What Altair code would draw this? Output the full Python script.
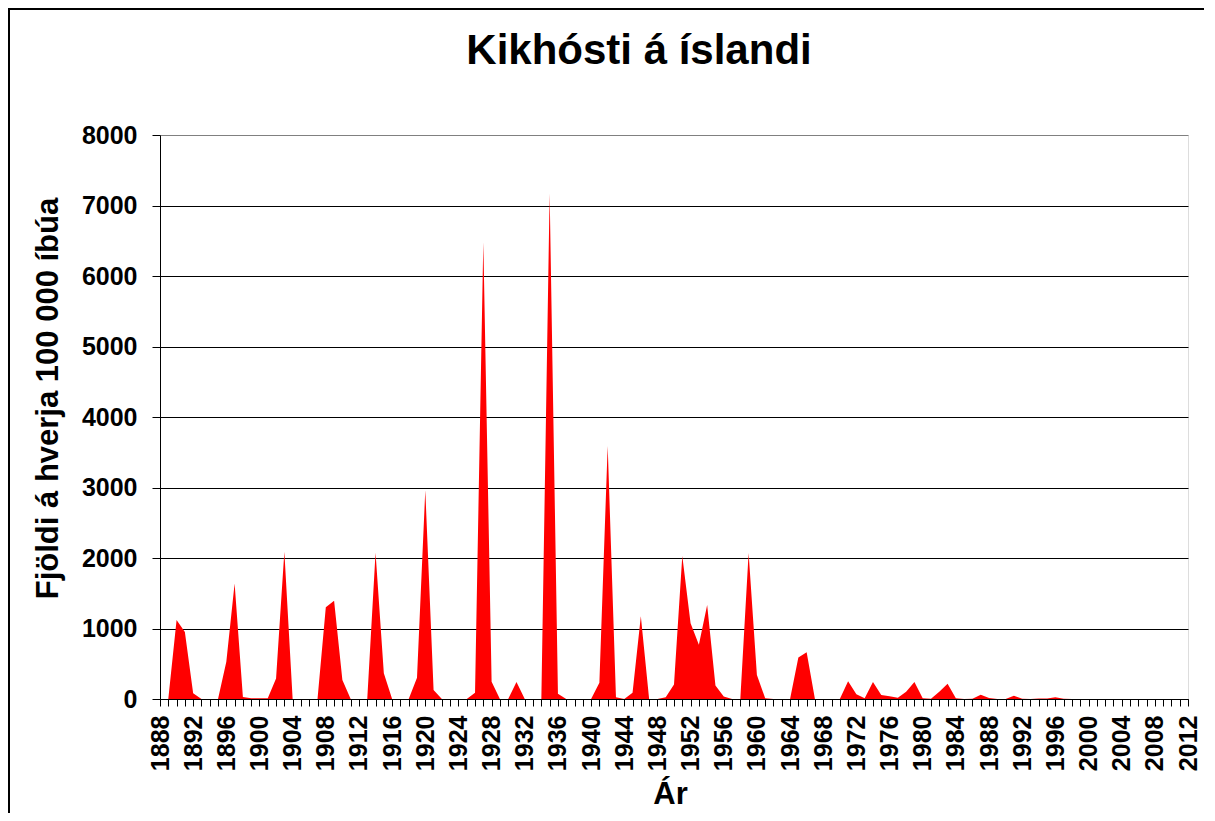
import altair as alt
import pandas as pd

years = list(range(1888, 2013))
cases = [
    0, 0, 1120, 950, 80, 0, 0, 0, 530, 1640,          # 1888-1897
    30, 10, 10, 10, 290, 2090, 0, 0, 0, 0,            # 1898-1907
    1300, 1395, 270, 0, 0, 0, 2075, 365, 0, 0,        # 1908-1917
    0, 300, 2960, 128, 0, 0, 0, 0, 90, 6480,          # 1918-1927
    245, 0, 0, 240, 0, 0, 0, 7170, 76, 0,             # 1928-1937
    0, 0, 0, 230, 3590, 25, 0, 90, 1175, 0,           # 1938-1947
    0, 25, 205, 2030, 1076, 770, 1333, 190, 34, 0,    # 1948-1957
    0, 2070, 340, 10, 0, 0, 0, 588, 663, 0,           # 1958-1967
    0, 0, 0, 253, 68, 10, 241, 57, 38, 19,            # 1968-1977
    104, 241, 10, 5, 104, 218, 10, 0, 5, 61,          # 1978-1987
    14, 0, 0, 45, 5, 0, 7, 7, 24, 5,                  # 1988-1997
    0, 0, 0, 0, 0, 0, 0, 0, 0, 0,                     # 1998-2007
    0, 0, 0, 0, 0,                                    # 2008-2012
]
y_ticks = [0, 1000, 2000, 3000, 4000, 5000, 6000, 7000, 8000]

FONT = "Liberation Sans"

df = pd.DataFrame({"year": years, "cases": cases})

area = alt.Chart(df).mark_area(color="#FF0000", interpolate="linear").encode(
    x=alt.X(
        "year:Q",
        scale=alt.Scale(domain=[1888, 2012], nice=False, zero=False),
        axis=alt.Axis(
            values=years,
            format="d",
            labelExpr="datum.value % 4 == 0 ? datum.label : ''",
            labelAngle=270,
            labelAlign="right",
            labelBaseline="middle",
            labelOverlap=False,
            labelFont=FONT,
            labelFontSize=25,
            labelFontWeight="bold",
            labelColor="black",
            labelPadding=9,
            tickSize=7,
            tickColor="black",
            domainColor="black",
            domainWidth=1,
            grid=False,
            title="Ár",
            titleFont=FONT,
            titleFontSize=31,
            titleFontWeight="bold",
            titleColor="black",
            titleX=510,
            titleY=104,
            titleBaseline="alphabetic",
            titleAlign="center",
            zindex=2,
        ),
    ),
    y=alt.Y(
        "cases:Q",
        scale=alt.Scale(domain=[0, 8000], nice=False),
        axis=alt.Axis(
            values=y_ticks,
            format="d",
            labelFont=FONT,
            labelFontSize=25,
            labelFontWeight="bold",
            labelColor="black",
            labelPadding=15,
            tickSize=8,
            tickColor="black",
            domainColor="black",
            domainWidth=1,
            grid=True,
            gridColor={"condition": {"test": "datum.value === 8000", "value": "#808080"}, "value": "black"},
            gridWidth=1,
            title="Fjöldi á hverja 100 000 íbúa",
            titleFont=FONT,
            titleFontSize=31,
            titleFontWeight="bold",
            titleColor="black",
            titleAngle=270,
            titleX=-103,
            titleY=263,
            titleBaseline="alphabetic",
            titleAlign="center",
        ),
    ),
)

frame = alt.Chart(pd.DataFrame({"f": [0]})).mark_rect(
    fill=None, stroke="black", strokeWidth=2
).encode(
    x=alt.value(-151),
    x2=alt.value(1200),
    y=alt.value(-126),
    y2=alt.value(900),
)

chart = alt.layer(area, frame).properties(
    width=1028,
    height=564,
    padding={"left": 152, "top": 127, "right": 16, "bottom": 114},
    autosize=alt.AutoSizeParams(type="none"),
    title=alt.TitleParams(
        "Kikhósti á íslandi",
        font=FONT,
        fontSize=42,
        fontWeight="bold",
        color="black",
        anchor="middle",
        frame="group",
        dx=-35,
        offset=0,
        dy=98,
        baseline="alphabetic",
    ),
).configure_view(
    stroke="#808080", strokeWidth=2
).configure(background="white")

chart.save("out.html", embed_options={"renderer": "svg", "actions": False})
